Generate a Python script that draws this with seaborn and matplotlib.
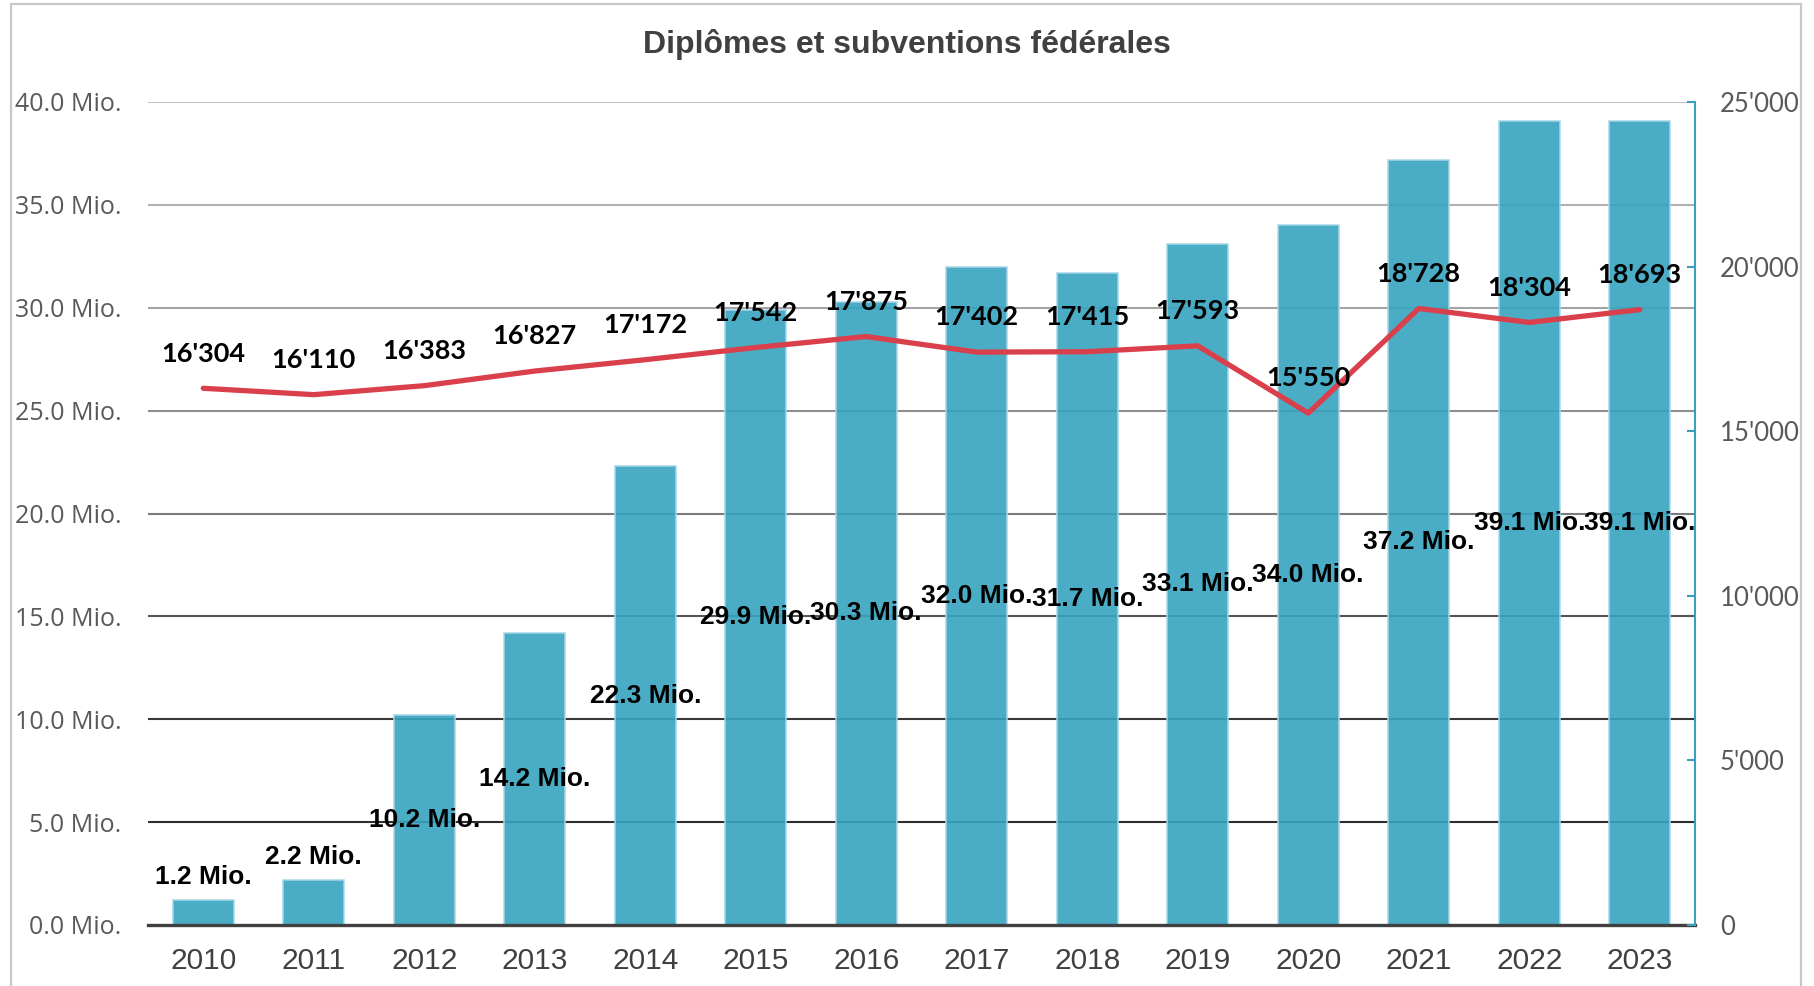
import numpy as np
import pandas as pd
import matplotlib
matplotlib.use("Agg")
import matplotlib.pyplot as plt
from matplotlib.patches import Rectangle
from matplotlib.ticker import FuncFormatter, MultipleLocator
import seaborn as sns

# ---- data ----
years = ["2010", "2011", "2012", "2013", "2014", "2015", "2016",
         "2017", "2018", "2019", "2020", "2021", "2022", "2023"]
subventions_mio = [1.2, 2.2, 10.2, 14.2, 22.3, 29.9, 30.3,
                   32.0, 31.7, 33.1, 34.0, 37.2, 39.1, 39.1]
diplomes = [16304, 16110, 16383, 16827, 17172, 17542, 17875,
            17402, 17415, 17593, 15550, 18728, 18304, 18693]
title = "Diplômes et subventions fédérales"

df = pd.DataFrame({"year": years, "mio": subventions_mio, "n": diplomes})

sns.set_style("white")
plt.rcParams["font.family"] = ["Liberation Sans", "DejaVu Sans"]

W, H = 1814, 986
fig = plt.figure(figsize=(W / 100, H / 100), dpi=100)
ax = fig.add_axes([148 / W, (H - 925) / H, (1695 - 148) / W, (925 - 102) / H])

BAR = "#37A3C0"
RED = "#D9404C"
TEAL = "#3AA0C0"

sns.barplot(data=df, x="year", y="mio", ax=ax, color=BAR, saturation=1,
            width=0.55, alpha=0.9, edgecolor="#A6D6E6", linewidth=1.2,
            zorder=3)
ax.set_ylim(0, 40)
ax.set_xlim(-0.5, len(years) - 0.5)
ax.yaxis.set_major_locator(MultipleLocator(5))
ax.yaxis.set_major_formatter(FuncFormatter(lambda v, p: f"{v:.1f} Mio."))
ax.set_xlabel("")
ax.set_ylabel("")
ax.grid(False)

# gridlines, progressively darker toward the bottom as in the reference
grid_cols = {5: "#2e2e2e", 10: "#383838", 15: "#555555", 20: "#7a7a7a",
             25: "#8e8e8e", 30: "#a4a4a4", 35: "#b0b0b0", 40: "#c4c4c4"}
for t in ax.get_yticks():
    if 0 < t <= 40:
        ax.axhline(t, color=grid_cols.get(int(round(t)), "#999999"),
                   lw=1.5, zorder=1)

for s in ["top", "right", "left"]:
    ax.spines[s].set_visible(False)
ax.spines["bottom"].set_color("#404040")
ax.spines["bottom"].set_linewidth(2.4)
ax.spines["bottom"].set_zorder(5)

ax.tick_params(axis="y", length=0, pad=19, labelsize=18, labelcolor="#595959")
ax.tick_params(axis="x", length=0, pad=16, labelsize=21.5, labelcolor="#404040")
for lab in ax.get_yticklabels():
    lab.set_fontfamily(["Open Sans", "DejaVu Sans"])

# bar labels
for i, v in enumerate(subventions_mio):
    if v >= 5:
        ax.text(i, v / 2, f"{v:.1f} Mio.", ha="center", va="center",
                fontsize=19, fontweight="bold", color="black", zorder=10)
    else:
        ax.annotate(f"{v:.1f} Mio.", (i, v), xytext=(0, 8),
                    textcoords="offset points", ha="center", va="bottom",
                    fontsize=19, fontweight="bold", color="black", zorder=10)

# secondary axis: diplomas line
ax2 = ax.twinx()
sns.pointplot(data=df, x="year", y="n", ax=ax2, color=RED, marker="",
              linewidth=3.8, errorbar=None)
ax2.set_ylim(0, 25000)
ax2.set_xlim(-0.5, len(years) - 0.5)
ax2.yaxis.set_major_locator(MultipleLocator(5000))
ax2.yaxis.set_major_formatter(
    FuncFormatter(lambda v, p: f"{int(v):,}".replace(",", "'")))
ax2.set_xlabel("")
ax2.set_ylabel("")
ax2.grid(False)
for s in ["top", "left", "bottom"]:
    ax2.spines[s].set_visible(False)
ax2.spines["right"].set_color(TEAL)
ax2.spines["right"].set_linewidth(1.5)
ax2.tick_params(axis="y", direction="in", length=6, width=1.5, color=TEAL,
                pad=18, labelsize=18.5, labelcolor="#595959")
for lab in ax2.get_yticklabels():
    lab.set_fontfamily(["Lato", "DejaVu Sans"])

for i, n in enumerate(diplomes):
    ax2.annotate(f"{n:,}".replace(",", "'"), (i, n), xytext=(0, 25),
                 textcoords="offset points", ha="center", va="center",
                 fontsize=19.5, fontweight="bold", color="black",
                 family=["Lato", "DejaVu Sans"])

fig.text(0.5, 1 - 44 / H, title, ha="center", va="center", fontsize=23,
         fontweight="bold", color="#404040")

fig.patches.append(Rectangle((11 / W, -0.05), (1801 - 11) / W, 1.05 - 4 / H,
                             transform=fig.transFigure, fill=False,
                             edgecolor="#c8c8c8", lw=1.6, zorder=0))

fig.savefig("out.png", dpi=100)
